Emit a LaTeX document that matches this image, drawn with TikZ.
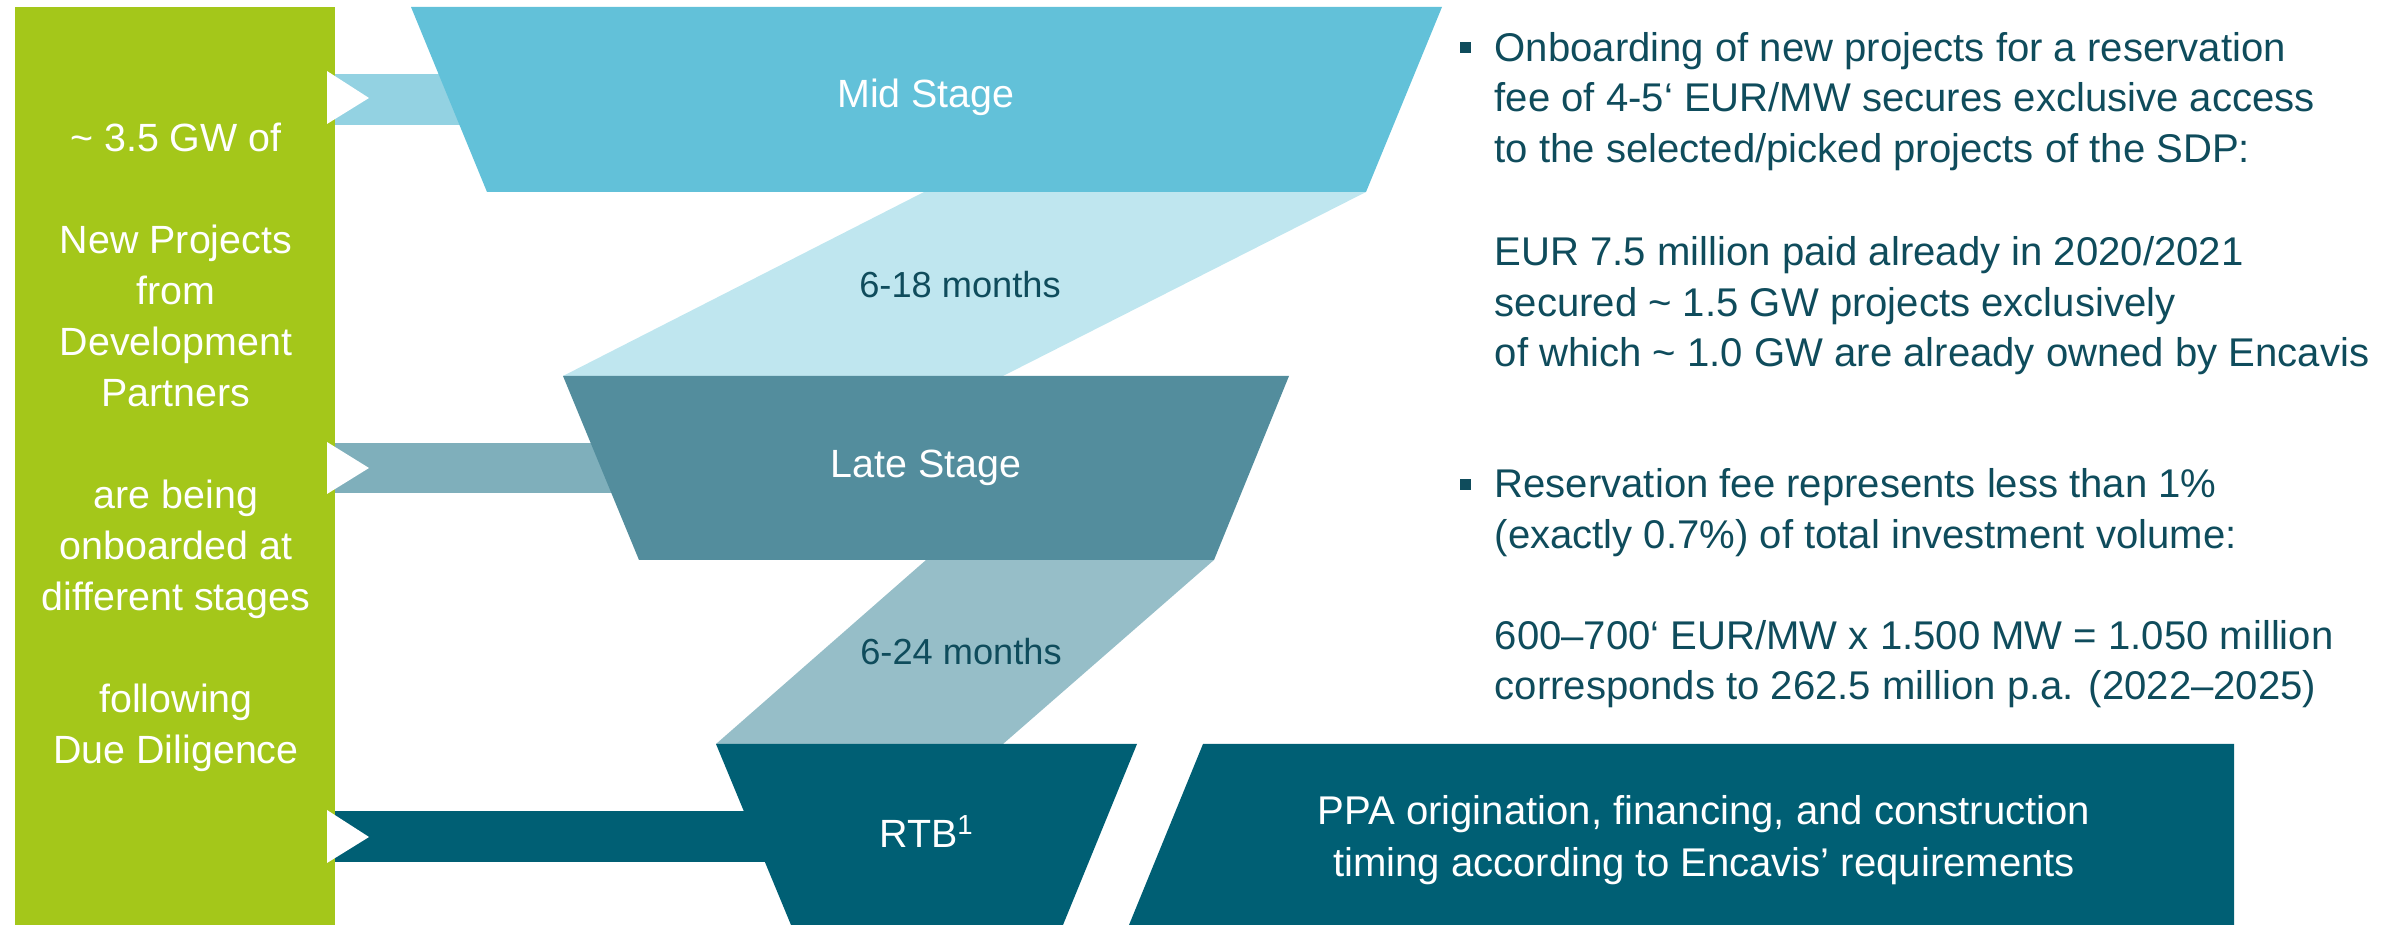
\documentclass[tikz,border=0pt]{standalone}
\usepackage{fontspec}
\setmainfont{Liberation Sans}

\definecolor{leaf}{HTML}{A4C71A}
\definecolor{midstage}{HTML}{62C1D9}
\definecolor{midfeed}{HTML}{93D2E2}
\definecolor{midspan}{HTML}{BFE6EF}
\definecolor{latestage}{HTML}{538D9D}
\definecolor{latefeed}{HTML}{7FAFBB}
\definecolor{latespan}{HTML}{96BEC8}
\definecolor{rtbstage}{HTML}{005F74}
\definecolor{inkteal}{HTML}{0F4C5C}

\tikzset{
  sidetext/.style={text=white, font=\fontsize{11.2}{14}\selectfont, inner sep=0pt, anchor=base},
  stagetext/.style={text=white, font=\fontsize{11.2}{14}\selectfont, inner sep=0pt, anchor=base},
  spantext/.style={text=inkteal, font=\fontsize{10.3}{13}\selectfont, inner sep=0pt, anchor=base},
  bodytext/.style={text=inkteal, font=\fontsize{11.4}{14}\selectfont, inner sep=0pt, anchor=base west},
  pparow/.style={text=white, font=\fontsize{11.4}{14}\selectfont, inner sep=0pt, anchor=base},
  notch/.style={fill=white},
  bulletsq/.style={fill=inkteal}
}

\begin{document}
\begin{tikzpicture}[x=0.01cm, y=-0.01cm]
\useasboundingbox (0,0) rectangle (2384,925);

% source column
\fill[leaf] (15,7) rectangle (335,925);

% feeder bands from the source column into each stage
\fill[midfeed]  (335,74)  rectangle (560,125);
\fill[latefeed] (335,443) rectangle (700,493);
\fill[rtbstage] (335,811) rectangle (850,862);

% white arrow notches on the source column
\fill[notch] (327,71)  -- (369,98)  -- (327,124) -- cycle;
\fill[notch] (327,442) -- (369,468) -- (327,494) -- cycle;
\fill[notch] (327,810) -- (369,837) -- (327,863) -- cycle;

% transition bands between the stages
\fill[midspan]  (924,192) -- (1366,192) -- (1003,376) -- (563,376) -- cycle;
\fill[latespan] (926,560) -- (1214,560) -- (1003,744) -- (716,744) -- cycle;

% funnel stages
\fill[midstage]  (411,7)   -- (1442,7)   -- (1366,192) -- (487,192) -- cycle;
\fill[latestage] (563,376) -- (1289,376) -- (1214,560) -- (639,560) -- cycle;
\fill[rtbstage]  (716,744) -- (1137,744) -- (1063,925) -- (791,925) -- cycle;

% development box
\fill[rtbstage] (1203,744) -- (2234,744) -- (2234,925) -- (1129,925) -- cycle;

% source column text
\node[sidetext] (g1)  at (176,152) {\textasciitilde\ 3.5 GW of};
\node[sidetext] (g2)  at (176,254) {New Projects};
\node[sidetext] (g3)  at (176,305) {from};
\node[sidetext] (g4)  at (176,356) {Development};
\node[sidetext] (g5)  at (176,407) {Partners};
\node[sidetext] (g6)  at (176,509) {are being};
\node[sidetext] (g7)  at (176,560) {onboarded at};
\node[sidetext] (g8)  at (176,611) {different stages};
\node[sidetext] (g9)  at (176,713) {following};
\node[sidetext] (g10) at (176,764) {Due Diligence};

% stage labels
\node[stagetext] (mid)  at (926,108) {Mid Stage};
\node[spantext]  (s1)   at (960,298) {6-18 months};
\node[stagetext] (late) at (926,478) {Late Stage};
\node[spantext]  (s2)   at (961,665) {6-24 months};
\node[stagetext] (rtb)  at (927,848) {RTB\textsuperscript{1}};

% development box text
\node[pparow] (p1) at (1704,825) {PPA origination, financing, and construction};
\node[pparow] (p2) at (1704,877) {timing according to Encavis’ requirements};

% bullet list
\fill[bulletsq] (1460,42) rectangle (1471,53);
\fill[bulletsq] (1460,479) rectangle (1471,490);
\node[bodytext] (r1)  at (1494,62)  {Onboarding of new projects for a reservation};
\node[bodytext] (r2)  at (1494,112) {fee of 4-5‘ EUR/MW secures exclusive access};
\node[bodytext] (r3)  at (1494,163) {to the selected/picked projects of the SDP:};
\node[bodytext] (r4)  at (1494,266) {EUR 7.5 million paid already in 2020/2021};
\node[bodytext] (r5)  at (1494,317) {secured \textasciitilde\ 1.5 GW projects exclusively};
\node[bodytext] (r6)  at (1494,367) {of which \textasciitilde\ 1.0 GW are already owned by Encavis};
\node[bodytext] (r7)  at (1494,498) {Reservation fee represents less than 1\%};
\node[bodytext] (r8)  at (1494,549) {(exactly 0.7\%) of total investment volume:};
\node[bodytext] (r9)  at (1494,650) {600–700‘ EUR/MW x 1.500 MW = 1.050 million};
\node[bodytext] (r10) at (1494,700) {corresponds to 262.5 million p.a. (2022–2025)};
\end{tikzpicture}
\end{document}
